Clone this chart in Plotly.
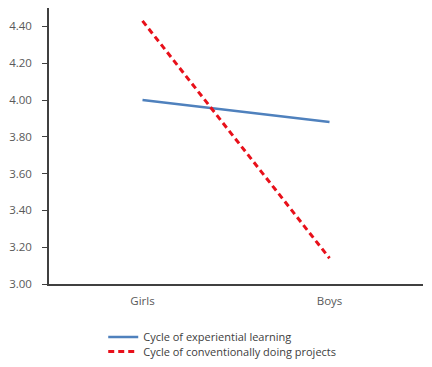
import plotly.graph_objects as go

categories = ["Girls", "Boys"]
experiential = [4.00, 3.88]
conventional = [4.43, 3.14]
y_ticks = [3.0, 3.2, 3.4, 3.6, 3.8, 4.0, 4.2, 4.4]
y_tick_labels = ["3.00", "3.20", "3.40", "3.60", "3.80", "4.00", "4.20", "4.40"]

FONT = "Open Sans, Noto Sans, sans-serif"

fig = go.Figure()
fig.add_trace(go.Scatter(x=categories, y=experiential, mode="lines",
                         name="Cycle of experiential learning", legend="legend",
                         line=dict(color="#4F81BD", width=2.5)))
fig.add_trace(go.Scatter(x=categories, y=conventional, mode="lines",
                         name="Cycle of conventionally doing projects", legend="legend2",
                         line=dict(color="#E8101A", width=3, dash="6px,4px")))

leg_common = dict(orientation="v", x=0.145, xanchor="left", yanchor="middle",
                  font=dict(size=11, color="#404040", family=FONT),
                  bgcolor="rgba(0,0,0,0)", borderwidth=0)

# page body has an 8px default margin, so the figure is 424x359 offset by 8px
fig.update_layout(
    width=424, height=359,
    margin=dict(l=41, r=9, t=0, b=83, autoexpand=False),
    paper_bgcolor="white", plot_bgcolor="white",
    font=dict(family=FONT, size=11.5, color="#404040"),
    showlegend=True,
    legend=dict(y=-0.192, **leg_common),
    legend2=dict(y=-0.245, **leg_common),
    xaxis=dict(type="category", range=[-0.5, 1.5], showline=True, linecolor="#404040",
               linewidth=1.5, ticks="", showgrid=False, zeroline=False, automargin=False,
               ticklabelstandoff=5,
               tickfont=dict(color="#595959", size=11.5, family=FONT)),
    yaxis=dict(range=[3.0, 4.5], tickvals=y_ticks, ticktext=y_tick_labels,
               showline=True, linecolor="#404040", linewidth=1.5, ticks="outside",
               ticklen=5, tickcolor="#404040", showgrid=False, zeroline=False,
               automargin=False, ticklabelstandoff=8,
               tickfont=dict(color="#595959", size=11.5, family=FONT)),
)

fig.write_html("out.html")
